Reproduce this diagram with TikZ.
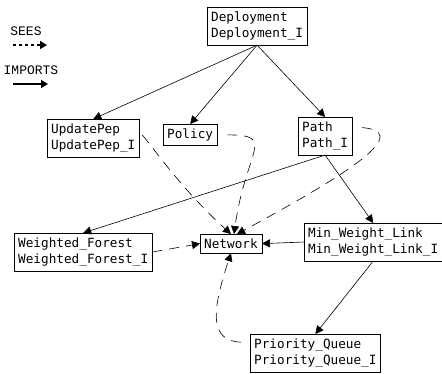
\documentclass[tikz,border=0pt]{standalone}
\usepackage{fontspec}
\setmonofont{DejaVu Sans Mono}
\newfontfamily\legendfont{Liberation Mono}
\usetikzlibrary{arrows.meta,positioning}

\tikzset{
  module/.style={draw, anchor=north west, align=left, inner xsep=4pt, inner ysep=4.5pt,
    font=\ttfamily\fontsize{12.7}{16}\selectfont},
  imports/.style={-{Triangle[length=8pt,width=8pt]}, line width=0.6pt},
  sees/.style={-{Triangle[length=8pt,width=8pt]}, line width=0.6pt, dash pattern=on 10pt off 7pt},
  legend/.style={font=\legendfont\fontsize{13}{14}\selectfont, inner sep=0pt}
}

\begin{document}
\begin{tikzpicture}[x=1pt, y=-1pt]
    \useasboundingbox (0,0) rectangle (442,373);
    % legend
    \node[legend] (sees) at (26,31) {SEES};
    \node[legend] (imports) at (31,70) {IMPORTS};
    \coordinate (sa) at (13,45);
    \coordinate (sb) at (47,45);
    \coordinate (ia) at (13,84);
    \coordinate (ib) at (48,84);
    \draw[-{Triangle[length=7pt,width=8pt]}, line width=1.6pt, dash pattern=on 3pt off 3pt] (sa) -- (sb);
    \draw[-{Triangle[length=7pt,width=8pt]}, line width=1.6pt] (ia) -- (ib);
    % modules
    \node[module] (deploy) at (207,7) {Deployment\\Deployment\_I};
    \node[module] (pep) at (47,119) {UpdatePep\\UpdatePep\_I};
    \node[module] (policy) at (163,124) {Policy};
    \node[module] (path) at (298,117) {Path\\Path\_I};
    \node[module] (forest) at (14,233) {Weighted\_Forest\\Weighted\_Forest\_I};
    \node[module] (network) at (200,234) {Network};
    \node[module] (link) at (304,223) {Min\_Weight\_Link\\Min\_Weight\_Link\_I};
    \node[module] (queue) at (250,334) {Priority\_Queue\\Priority\_Queue\_I};
    % imports
    \path[imports]
    (deploy.south) edge (pep.north)
    (deploy.south) edge (policy.north)
    (deploy.south) edge (path.north)
    (path.south) edge (forest.north)
    (path.south) edge (link.north)
    (link.west) edge (network.east)
    (link.south) edge (queue.north);
    % sees
    \draw[sees] (forest.east) -- (network.west);
    \draw[sees, shorten <=4pt] (pep.7) .. controls +(10,10) and +(-50,-45) .. (network.north);
    \draw[sees, shorten <=10pt] (policy.east) .. controls +(60,0) and +(12,-85) .. ([xshift=3pt]network.north);
    \draw[sees, shorten <=10pt] (path.19) .. controls +(55,5) and +(130,-70) .. ([xshift=6pt]network.north);
    \draw[sees, shorten <=9pt] (queue.171) .. controls +(-40,-2) and +(-20,60) .. (network.south);
\end{tikzpicture}
\end{document}
